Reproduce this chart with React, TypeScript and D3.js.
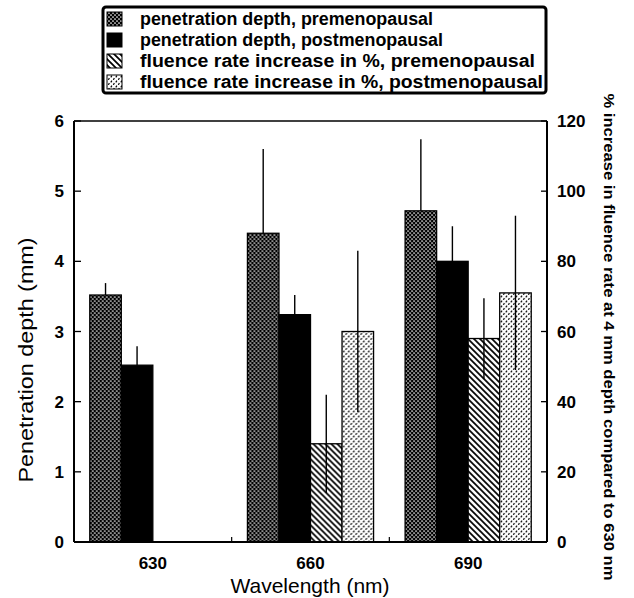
import React from "react";
import * as d3 from "d3";

// wavelengths (nm)
const wavelengths = ["630", "660", "690"];

// penetration depth (mm), left axis
const depthPre = [3.52, 4.4, 4.72];
const depthPreErr = [0.17, 1.2, 1.02];
const depthPost = [2.52, 3.24, 4.0];
const depthPostErr = [0.27, 0.28, 0.5];

// fluence rate increase (%), right axis
const fluencePre = [0, 28, 58];
const fluencePreErr = [0, 14, 11.5];
const fluencePost = [0, 60, 71];
const fluencePostErr = [0, 23, 22];

const leftTicks = [0, 1, 2, 3, 4, 5, 6];
const rightTicks = [0, 20, 40, 60, 80, 100, 120];

const legendLabels = [
  "penetration depth, premenopausal",
  "penetration depth, postmenopausal",
  "fluence rate increase in %, premenopausal",
  "fluence rate increase in %, postmenopausal",
];
const legendWidths = [293, 303, 395, 403];
const fills = ["url(#dots)", "#000", "url(#hatch)", "url(#dashes)"];

const font = "'Liberation Sans', Arial, Helvetica, sans-serif";

const App = () => {
  const width = 634;
  const height = 598;
  const left = 74;
  const right = 547;
  const top = 121;
  const bottom = 542;

  const x0 = d3
    .scaleBand()
    .domain(wavelengths)
    .range([left, right])
    .paddingInner(0.2)
    .paddingOuter(0.1);
  const x1 = d3
    .scaleBand()
    .domain(["0", "1", "2", "3"])
    .range([0, x0.bandwidth()]);
  const yL = d3.scaleLinear().domain([0, 6]).range([bottom, top]);
  const yR = d3.scaleLinear().domain([0, 120]).range([bottom, top]);

  const series = [
    { vals: depthPre, err: depthPreErr, y: yL, both: false },
    { vals: depthPost, err: depthPostErr, y: yL, both: false },
    { vals: fluencePre, err: fluencePreErr, y: yR, both: true },
    { vals: fluencePost, err: fluencePostErr, y: yR, both: true },
  ];

  // group boundaries for small x ticks
  const gaps = wavelengths.slice(1).map((w, i) => {
    const a = x0(wavelengths[i])! + x0.bandwidth();
    const b = x0(w)!;
    return (a + b) / 2;
  });

  return (
    <svg width={width} height={height} style={{ position: "absolute", left: 0, top: 0 }}>
      <defs>
        <pattern id="dots" width="4" height="4" patternUnits="userSpaceOnUse">
          <rect width="4" height="4" fill="#000" />
          <circle cx="1" cy="1" r="0.85" fill="#fff" />
          <circle cx="3" cy="3" r="0.85" fill="#fff" />
        </pattern>
        <pattern id="hatch" width="6" height="6" patternUnits="userSpaceOnUse">
          <rect width="6" height="6" fill="#fff" />
          <path d="M0,0 L6,6 M-1,5 L1,7 M5,-1 L7,1" stroke="#000" strokeWidth="1.7" />
        </pattern>
        <pattern id="dashes" width="5" height="5" patternUnits="userSpaceOnUse">
          <rect width="5" height="5" fill="#fff" />
          <path d="M0.8,2.3 L1.9,0.6 M3.3,4.8 L4.4,3.1" stroke="#000" strokeWidth="1.2" />
        </pattern>
      </defs>

      {/* legend */}
      <rect x={103} y={7} width={443} height={86} rx={3} fill="#fff" stroke="#000" strokeWidth={3} />
      {legendLabels.map((t, i) => {
        const cy = 19 + i * 21;
        return (
          <g key={t}>
            <rect x={107} y={cy - 7} width={15} height={14} fill={fills[i]} stroke="#000" strokeWidth={1} />
            <text
              x={140}
              y={cy + 6}
              fontFamily={font}
              fontWeight="bold"
              fontSize={18}
              textLength={legendWidths[i]}
              lengthAdjust="spacingAndGlyphs"
            >
              {t}
            </text>
          </g>
        );
      })}

      {/* bars */}
      {wavelengths.map((w, gi) => (
        <g key={w} transform={`translate(${x0(w)},0)`}>
          {series.map((s, si) => {
            const v = s.vals[gi];
            if (v <= 0) return null;
            const bx = x1(String(si))!;
            const bw = x1.bandwidth();
            const cx = bx + bw / 2;
            return (
              <g key={si}>
                <rect
                  x={bx}
                  y={s.y(v)}
                  width={bw}
                  height={bottom - s.y(v)}
                  fill={fills[si]}
                  stroke="#000"
                  strokeWidth={1.3}
                />
                <line
                  x1={cx}
                  x2={cx}
                  y1={s.both ? s.y(v - s.err[gi]) : s.y(v)}
                  y2={s.y(v + s.err[gi])}
                  stroke="#000"
                  strokeWidth={1.4}
                />
              </g>
            );
          })}
        </g>
      ))}

      {/* frame */}
      <line x1={left} x2={right} y1={top} y2={top} stroke="#000" strokeWidth={1.5} />
      <line x1={left} x2={right} y1={bottom} y2={bottom} stroke="#000" strokeWidth={2} />
      <line x1={left} x2={left} y1={top} y2={bottom} stroke="#000" strokeWidth={2} />
      <line x1={right} x2={right} y1={top} y2={bottom} stroke="#000" strokeWidth={2} />
      {gaps.map((g) => (
        <line key={g} x1={g} x2={g} y1={bottom} y2={bottom - 5} stroke="#000" strokeWidth={1.2} />
      ))}

      {/* left axis */}
      {leftTicks.map((t) => (
        <g key={t}>
          <line x1={left} x2={left + 7} y1={yL(t)} y2={yL(t)} stroke="#000" strokeWidth={1.3} />
          <text x={64} y={yL(t) + 6} textAnchor="end" fontFamily={font} fontWeight="bold" fontSize={17}>
            {t}
          </text>
        </g>
      ))}
      {/* right axis */}
      {rightTicks.map((t) => (
        <g key={t}>
          <line x1={right - 6} x2={right} y1={yR(t)} y2={yR(t)} stroke="#000" strokeWidth={1.3} />
          <text x={557} y={yR(t) + 6} fontFamily={font} fontWeight="bold" fontSize={17}>
            {t}
          </text>
        </g>
      ))}

      {/* x labels */}
      {wavelengths.map((w) => (
        <text
          key={w}
          x={x0(w)! + x0.bandwidth() / 2}
          y={569}
          textAnchor="middle"
          fontFamily={font}
          fontWeight="bold"
          fontSize={17}
        >
          {w}
        </text>
      ))}

      {/* axis titles */}
      <text x={310} y={593} textAnchor="middle" fontFamily={font} fontSize={21}>
        Wavelength (nm)
      </text>
      <text
        transform={`translate(33,360) rotate(-90)`}
        textAnchor="middle"
        fontFamily={font}
        fontSize={21}
        textLength={245}
        lengthAdjust="spacingAndGlyphs"
      >
        Penetration depth (mm)
      </text>
      <text
        transform={`translate(604,337) rotate(90)`}
        textAnchor="middle"
        fontFamily={font}
        fontWeight="bold"
        fontSize={15}
        textLength={487}
        lengthAdjust="spacingAndGlyphs"
      >
        % increase in fluence rate at 4 mm depth compared to 630 nm
      </text>
    </svg>
  );
};

export default App;
